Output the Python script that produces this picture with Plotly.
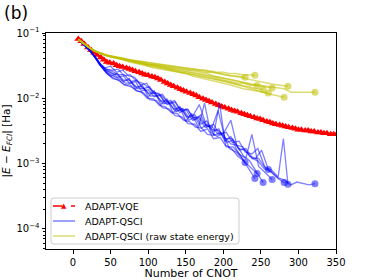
import plotly.graph_objects as go

# ---------------- data ----------------
vqe_cnot = [7, 11, 15, 20, 24, 28, 32, 37, 41, 45, 49, 54, 58, 62, 66, 71, 75, 79, 83, 88,
            92, 96, 100, 105, 109, 113, 117, 122, 126, 130, 134, 139, 143, 147, 151, 156, 160, 164, 168, 173,
            177, 181, 185, 190, 194, 198, 202, 207, 211, 215, 219, 224, 228, 232, 236, 241, 245, 249, 253, 258,
            262, 266, 270, 275, 279, 283, 287, 292, 296, 300, 304, 309, 313, 317, 321, 326, 330, 334, 338, 343,
            347, 351, 355]
vqe_err = [.081, .075, .068, .060, .055, .050, .046, .042, .039, .036, .035, .034, .032, .031, .030, .029, .028, .027, .026, .025,
           .024, .023, .0225, .0215, .021, .020, .019, .0178, .0168, .016, .0153, .0145, .0138, .0132, .0126, .012, .0115, .011, .0104, .0098,
           .0094, .009, .0086, .0082, .0078, .0075, .0072, .0069, .0066, .0064, .0062, .0059, .0057, .0055, .0053, .0051, .0049, .0048, .0046, .0044,
           .0043, .0041, .0040, .0039, .0038, .0037, .0036, .0035, .0034, .0033, .0033, .0032, .0032, .0031, .0031, .0030, .0030, .0029, .0029, .0028,
           .0028, .0028, .0027]

qsci_cnot = [
    [7, 14, 21, 28, 35, 42, 50, 58, 66, 74, 82, 90, 98, 106, 114, 122, 130, 138, 146, 154, 162, 170, 178, 186, 194, 202, 210, 218, 229],
    [7, 14, 21, 29, 36, 43, 51, 59, 67, 75, 83, 92, 100, 108, 117, 125, 133, 142, 150, 158, 167, 175, 183, 192, 200, 208, 217, 225, 233, 242],
    [7, 15, 22, 30, 37, 45, 52, 60, 68, 76, 84, 91, 99, 107, 115, 123, 131, 139, 147, 155, 163, 171, 179, 187, 195, 203, 211, 219, 227, 235, 245],
    [7, 14, 22, 29, 37, 44, 52, 60, 68, 76, 85, 93, 101, 110, 118, 127, 135, 143, 152, 160, 168, 177, 185, 193, 202, 210, 218, 227, 235, 244, 253],
    [7, 14, 21, 28, 36, 43, 51, 59, 67, 75, 83, 91, 100, 108, 116, 125, 133, 142, 150, 159, 167, 176, 184, 193, 201, 210, 218, 226, 235, 243, 251, 260],
    [7, 15, 22, 30, 37, 45, 53, 61, 69, 77, 86, 94, 102, 111, 119, 128, 136, 145, 153, 162, 170, 179, 187, 196, 204, 213, 221, 230, 238, 247, 256, 265],
    [7, 14, 22, 29, 37, 44, 52, 60, 68, 77, 85, 93, 102, 110, 119, 127, 136, 144, 153, 161, 170, 178, 187, 195, 204, 212, 221, 229, 238, 246, 255, 263, 272, 281],
    [7, 15, 22, 30, 38, 45, 53, 61, 70, 78, 86, 95, 103, 111, 120, 128, 137, 145, 154, 162, 171, 179, 188, 196, 205, 213, 222, 230, 239, 247, 256, 264, 273, 280, 286],
    [7, 14, 21, 29, 36, 44, 51, 59, 67, 75, 84, 92, 100, 109, 117, 126, 134, 143, 151, 160, 168, 177, 186, 194, 203, 212, 220, 229, 238, 246, 255, 264, 273, 281, 290, 298, 306, 314, 322],
]

qsci_err = [
    [.080, .067, .055, .044, .033, .029, .031, .025, .027, .022, .021, .016, .017, .012, .012, .0085, .0093, .0064, .0070, .0050, .0056, .0040, .0045, .0031, .0034, .0022, .0026, .0016, .00104],
    [.080, .068, .056, .043, .032, .026, .022, .024, .018, .020, .014, .016, .0105, .013, .0080, .0098, .0060, .0075, .0045, .0058, .0036, .0084, .0030, .0026, .0029, .0017, .0015, .0012, .00085, .00059],
    [.080, .067, .055, .042, .031, .024, .021, .019, .016, .016, .013, .0125, .010, .0098, .0078, .0074, .0060, .0058, .0046, .0044, .0036, .0035, .0028, .0027, .0084, .0019, .0017, .0013, .0011, .00090, .0007],
    [.080, .068, .055, .043, .033, .028, .027, .028, .022, .023, .018, .017, .0145, .012, .0110, .0085, .0092, .0066, .0068, .0050, .0052, .0038, .0036, .0065, .0025, .0020, .0019, .0013, .0011, .00075, .00051],
    [.080, .068, .056, .044, .033, .027, .025, .021, .022, .017, .018, .013, .0135, .0105, .011, .0080, .0085, .0060, .0068, .0046, .0050, .0036, .0038, .0028, .0030, .0046, .0019, .0018, .0013, .0012, .0016, .00081],
    [.080, .067, .055, .042, .031, .024, .020, .019, .016, .015, .013, .012, .0095, .0092, .0072, .0068, .0054, .0052, .0041, .0040, .0031, .0034, .0024, .0025, .0018, .0018, .0014, .0012, .0028, .0009, .00072, .00057],
    [.080, .068, .055, .043, .033, .028, .026, .023, .023, .018, .019, .014, .015, .011, .0115, .0083, .0088, .0062, .0068, .0046, .0056, .0036, .0040, .0028, .0030, .0021, .0022, .0015, .0014, .0017, .00090, .00075, .00060, .00051],
    [.080, .067, .055, .042, .032, .025, .022, .020, .017, .017, .014, .014, .0108, .011, .0082, .0085, .0062, .0068, .0046, .0052, .0035, .0040, .0027, .0030, .0021, .0023, .0016, .0017, .0012, .0012, .00085, .00080, .00062, .0024, .00048],
    [.080, .068, .056, .044, .033, .027, .024, .023, .019, .019, .015, .015, .012, .012, .0090, .0092, .0068, .0072, .0052, .0055, .0080, .0040, .0033, .0032, .0024, .0024, .0017, .0016, .0012, .0011, .00082, .00075, .00060, .00056, .00047, .00052, .00050, .00047, .00049],
]

raw_err = [
    [.080, .069, .060, .054, .049, .046, .044, .042, .040, .038, .037, .036, .034, .033, .032, .031, .030, .029, .028, .027, .027, .026, .025, .025, .024, .023, .022, .022, .021],
    [.080, .069, .060, .053, .049, .046, .044, .043, .041, .039, .038, .037, .035, .034, .033, .032, .031, .030, .029, .028, .027, .027, .026, .025, .025, .024, .024, .023, .023, .0226],
    [.080, .068, .059, .052, .048, .045, .043, .041, .039, .037, .036, .034, .033, .032, .030, .029, .028, .027, .026, .025, .024, .023, .022, .021, .020, .019, .018, .017, .017, .016, .0157],
    [.080, .069, .059, .053, .049, .045, .043, .041, .039, .037, .035, .033, .031, .030, .029, .027, .026, .025, .024, .023, .022, .021, .020, .019, .018, .017, .016, .0155, .015, .014, .0136],
    [.080, .069, .060, .053, .049, .046, .043, .041, .039, .036, .034, .033, .031, .029, .028, .027, .026, .025, .024, .022, .021, .020, .019, .018, .017, .016, .015, .014, .0135, .013, .0125, .012],
    [.080, .068, .059, .052, .048, .045, .043, .041, .039, .037, .036, .034, .033, .032, .031, .030, .029, .028, .027, .026, .025, .024, .022, .021, .020, .019, .018, .017, .016, .0155, .015, .0143],
    [.080, .069, .059, .053, .048, .045, .043, .041, .039, .037, .035, .033, .032, .030, .029, .028, .026, .025, .024, .023, .022, .021, .020, .019, .018, .017, .016, .015, .014, .013, .012, .0115, .011, .0104],
    [.080, .068, .059, .053, .049, .046, .044, .042, .040, .038, .037, .036, .035, .034, .033, .032, .031, .030, .029, .028, .027, .026, .025, .024, .023, .022, .021, .020, .019, .018, .017, .0165, .016, .0155, .0153],
    [.080, .069, .060, .053, .049, .046, .044, .042, .040, .038, .036, .035, .033, .032, .031, .029, .028, .027, .026, .025, .024, .023, .022, .021, .020, .019, .018, .017, .0165, .016, .0155, .015, .0145, .014, .0124, .0124, .0124, .0124, .0124],
]

series_names = ["ADAPT-VQE", "ADAPT-QSCI", "ADAPT-QSCI (raw state energy)"]
x_ticks = [0, 50, 100, 150, 200, 250, 300, 350]
y_ticks = [1e-4, 1e-3, 1e-2, 1e-1]
y_tick_text = ["10<sup>−4</sup>", "10<sup>−3</sup>", "10<sup>−2</sup>", "10<sup>−1</sup>"]

# ---------------- styling ----------------
RED = "rgb(255,0,0)"
BLUE = "rgba(0,0,255,0.5)"
OLIVE = "rgba(191,191,0,0.55)"
FONT = "DejaVu Sans"

fig = go.Figure()

fig.add_trace(go.Scatter(
    x=vqe_cnot, y=vqe_err, mode="lines+markers", name=series_names[0],
    line=dict(color=RED, width=1.5, dash="dash"),
    marker=dict(symbol="triangle-up", size=7, color=RED), showlegend=False))

for xs, ys in zip(qsci_cnot, qsci_err):
    fig.add_trace(go.Scatter(
        x=xs, y=ys, mode="lines", name=series_names[1],
        line=dict(color=BLUE, width=1.3), showlegend=False))
    fig.add_trace(go.Scatter(
        x=[xs[-1]], y=[ys[-1]], mode="markers", name=series_names[1],
        marker=dict(symbol="circle", size=7, color=BLUE), showlegend=False))

for xs, ys in zip(qsci_cnot, raw_err):
    fig.add_trace(go.Scatter(
        x=xs, y=ys, mode="lines", name=series_names[2],
        line=dict(color=OLIVE, width=1.5), showlegend=False))
    fig.add_trace(go.Scatter(
        x=[xs[-1]], y=[ys[-1]], mode="markers", name=series_names[2],
        marker=dict(symbol="circle", size=7, color=OLIVE), showlegend=False))

minor_vals = [m * 10 ** e for e in range(-5, 0) for m in range(2, 10)]

# ---------- legend (drawn in paper coordinates, matplotlib style) ----------
PW, PH = 290.0, 216.0          # plot area size in px
def px(dx):
    return dx / PW
def py(dy):
    return dy / PH

bx0, bx1 = px(5), px(193)
by0, by1 = py(5), py(51)
rx, ry = px(3), py(3)
box_path = (f"M {bx0+rx},{by0} L {bx1-rx},{by0} Q {bx1},{by0} {bx1},{by0+ry} "
            f"L {bx1},{by1-ry} Q {bx1},{by1} {bx1-rx},{by1} L {bx0+rx},{by1} "
            f"Q {bx0},{by1} {bx0},{by1-ry} L {bx0},{by0+ry} Q {bx0},{by0} {bx0+rx},{by0} Z")
shapes = [dict(type="path", path=box_path, xref="paper", yref="paper",
               fillcolor="rgba(255,255,255,0.85)", line=dict(color="#cccccc", width=1), layer="above")]
entry_y = [py(43), py(28), py(13)]
entry_col = [RED, BLUE, OLIVE]
entry_dash = ["dash", "solid", "solid"]
lx0, lx1, tx = px(7), px(29), px(37)
annotations = []
for yv, col, dsh, name in zip(entry_y, entry_col, entry_dash, series_names):
    shapes.append(dict(type="line", xref="paper", yref="paper", x0=lx0, x1=lx1, y0=yv, y1=yv,
                       line=dict(color=col, width=1.5, dash=dsh), layer="above"))
    annotations.append(dict(text=name, xref="paper", yref="paper", x=tx, y=yv, xanchor="left",
                            yanchor="middle", showarrow=False, font=dict(size=9.5, color="black")))
annotations.append(dict(text="▲", xref="paper", yref="paper", x=(lx0 + lx1) / 2, y=entry_y[0],
                        xanchor="center", yanchor="middle", showarrow=False,
                        font=dict(size=7, color=RED)))
annotations.append(dict(text="(b)", xref="paper", yref="paper", x=-0.152, y=1.148,
                        xanchor="left", yanchor="top", showarrow=False, font=dict(size=17)))

fig.update_layout(
    width=374, height=280,
    margin=dict(l=46, r=38, t=33, b=31, autoexpand=False),
    paper_bgcolor="white", plot_bgcolor="white",
    font=dict(family=FONT, size=10, color="black"),
    showlegend=False,
    hovermode=False,
    xaxis=dict(range=[-36, 350], tickmode="array", tickvals=x_ticks, automargin=False,
               showline=True, linecolor="black", linewidth=1, mirror=True,
               ticks="outside", ticklen=3.5, tickcolor="black", showgrid=False, zeroline=False,
               title=dict(text="Number of CNOT", font=dict(size=11), standoff=2)),
    yaxis=dict(type="log", range=[-4.31, -1], tickmode="array", tickvals=y_ticks, ticktext=y_tick_text,
               automargin=False,
               showline=True, linecolor="black", linewidth=1, mirror=True,
               ticks="outside", ticklen=3.5, tickcolor="black", showgrid=False, zeroline=False,
               minor=dict(tickmode="array", tickvals=minor_vals, ticks="outside", ticklen=2,
                          tickcolor="black", showgrid=False),
               title=dict(text="|<i>E</i> − <i>E</i><sub><i>FCI</i></sub>| [Ha]", font=dict(size=10.5), standoff=4)),
    shapes=shapes,
    annotations=annotations,
)

fig.write_html("out.html", config={"displayModeBar": False, "staticPlot": True},
               post_script="document.body.style.margin='0';document.body.style.overflow='hidden';")
